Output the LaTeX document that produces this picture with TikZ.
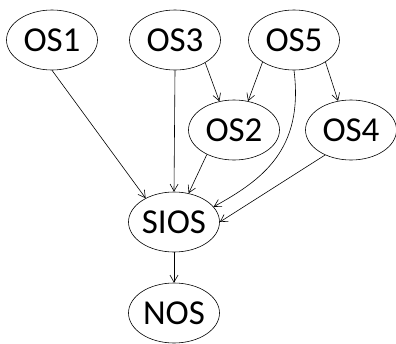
\documentclass[tikz,border=0pt]{standalone}
\usepackage{fontspec}
\setmainfont{Carlito}
\usetikzlibrary{shapes.geometric,arrows.meta}
\begin{document}
\begin{tikzpicture}[x=1pt,y=-1pt,
  osnode/.style={draw,ellipse,line width=0.6pt,minimum width=91pt,minimum height=60pt,inner sep=0pt,font=\fontsize{35}{35}\selectfont},
  link/.style={line width=0.6pt,-{Straight Barb[length=7pt,width=8pt,line width=0.6pt]}}]
\useasboundingbox (0,0) rectangle (396,343);
\node[osnode] (os1) at (52,40) {OS1};
\node[osnode] (os3) at (175,40) {OS3};
\node[osnode] (os5) at (294,40) {OS5};
\node[osnode] (os2) at (234,130) {OS2};
\node[osnode] (os4) at (351,130) {OS4};
\node[osnode] (sios) at (174,222) {SIOS};
\node[osnode] (nos) at (174,313) {NOS};
\draw[link] (os1.south) -- (sios.140);
\draw[link] (os3.south) -- (sios.north);
\draw[link] (os3.-37) -- (os2.117);
\draw[link] (os5.215) -- (os2.64);
\draw[link] (os5.-35) -- (os4.114);
\draw[link] (os5.south) .. controls (304,150) and (262,180) .. (sios.21);
\draw[link] (os2.222) -- (sios.63);
\draw[link] (os4.224) -- (sios.east);
\draw[link] (sios.south) -- (nos.north);
\end{tikzpicture}
\end{document}
